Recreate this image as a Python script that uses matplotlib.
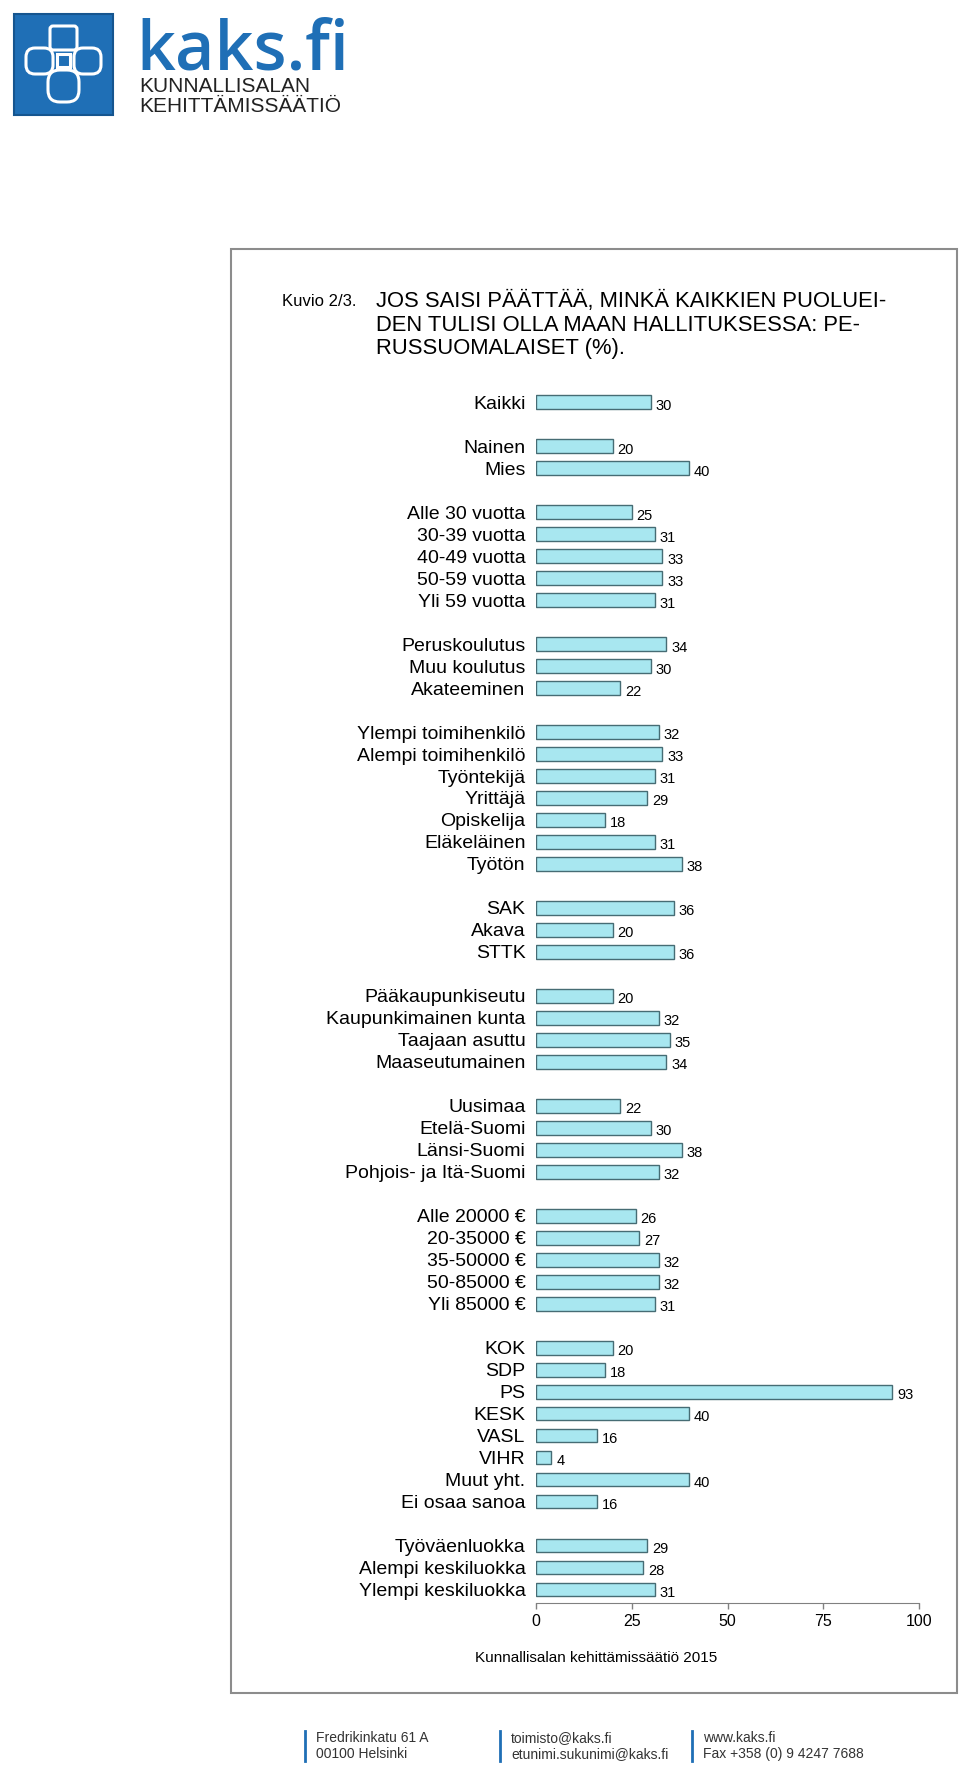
import matplotlib.pyplot as plt
import matplotlib.patches as mpatches

plt.rcParams['font.family'] = ['Liberation Sans', 'DejaVu Sans']

# data (%)
kaikki_labels = ['Kaikki']
kaikki_values = [30]
sukupuoli_labels = ['Nainen', 'Mies']
sukupuoli_values = [20, 40]
ika_labels = ['Alle 30 vuotta', '30-39 vuotta', '40-49 vuotta', '50-59 vuotta', 'Yli 59 vuotta']
ika_values = [25, 31, 33, 33, 31]
koulutus_labels = ['Peruskoulutus', 'Muu koulutus', 'Akateeminen']
koulutus_values = [34, 30, 22]
ammatti_labels = ['Ylempi toimihenkilö', 'Alempi toimihenkilö', 'Työntekijä', 'Yrittäjä',
                  'Opiskelija', 'Eläkeläinen', 'Työtön']
ammatti_values = [32, 33, 31, 29, 18, 31, 38]
liitto_labels = ['SAK', 'Akava', 'STTK']
liitto_values = [36, 20, 36]
kunta_labels = ['Pääkaupunkiseutu', 'Kaupunkimainen kunta', 'Taajaan asuttu', 'Maaseutumainen']
kunta_values = [20, 32, 35, 34]
alue_labels = ['Uusimaa', 'Etelä-Suomi', 'Länsi-Suomi', 'Pohjois- ja Itä-Suomi']
alue_values = [22, 30, 38, 32]
tulot_labels = ['Alle 20000 €', '20-35000 €', '35-50000 €', '50-85000 €', 'Yli 85000 €']
tulot_values = [26, 27, 32, 32, 31]
puolue_labels = ['KOK', 'SDP', 'PS', 'KESK', 'VASL', 'VIHR', 'Muut yht.', 'Ei osaa sanoa']
puolue_values = [20, 18, 93, 40, 16, 4, 40, 16]
luokka_labels = ['Työväenluokka', 'Alempi keskiluokka', 'Ylempi keskiluokka']
luokka_values = [29, 28, 31]

groups = [
    (kaikki_labels, kaikki_values),
    (sukupuoli_labels, sukupuoli_values),
    (ika_labels, ika_values),
    (koulutus_labels, koulutus_values),
    (ammatti_labels, ammatti_values),
    (liitto_labels, liitto_values),
    (kunta_labels, kunta_values),
    (alue_labels, alue_values),
    (tulot_labels, tulot_values),
    (puolue_labels, puolue_values),
    (luokka_labels, luokka_values),
]

labels, values, ypos = [], [], []
pos = 0
for g_labels, g_values in groups:
    for lab, val in zip(g_labels, g_values):
        labels.append(lab)
        values.append(val)
        ypos.append(pos)
        pos += 1
    pos += 1  # empty row between groups

W, H = 960, 1773
fig = plt.figure(figsize=(W / 100, H / 100), dpi=100)

# background layer in pixel coordinates (logo, frame, footer)
bg = fig.add_axes([0, 0, 1, 1], zorder=0)
bg.set_xlim(0, W)
bg.set_ylim(H, 0)
bg.axis('off')

blue = '#1f6fb6'
# logo
bg.add_patch(mpatches.Rectangle((14, 14), 99, 101, facecolor=blue, edgecolor='#15558f', lw=1.5))
wl = dict(facecolor='none', edgecolor='white', lw=2.2)
bg.add_patch(mpatches.FancyBboxPatch((50, 26), 27, 24, boxstyle='round,pad=0,rounding_size=3', **wl))
bg.add_patch(mpatches.FancyBboxPatch((26, 48), 27, 26, boxstyle='round,pad=0,rounding_size=9', **wl))
bg.add_patch(mpatches.FancyBboxPatch((74, 48), 27, 26, boxstyle='round,pad=0,rounding_size=9', **wl))
bg.add_patch(mpatches.FancyBboxPatch((48, 70), 31, 32, boxstyle='round,pad=0,rounding_size=12', **wl))
bg.add_patch(mpatches.Rectangle((57, 54), 13, 13, angle=0, **wl))
bg.text(136, 70, 'kaks.fi', color=blue, fontsize=49, fontweight='semibold',
        family=['Open Sans', 'DejaVu Sans'], va='baseline', ha='left')
bg.text(139, 86, 'KUNNALLISALAN', color='#222222', fontsize=15,
        va='center', ha='left')
bg.text(139, 106, 'KEHITTÄMISSÄÄTIÖ', color='#222222', fontsize=15,
        va='center', ha='left')

# frame around the chart
bg.add_patch(mpatches.Rectangle((231, 249), 726, 1444, facecolor='none', edgecolor='#8c8c8c', lw=1.5))

# title
bg.text(282, 302, 'Kuvio 2/3.', fontsize=12, va='center', ha='left')
bg.text(376, 325, 'JOS SAISI PÄÄTTÄÄ, MINKÄ KAIKKIEN PUOLUEI-\nDEN TULISI OLLA MAAN HALLITUKSESSA: PE-\nRUSSUOMALAISET (%).',
        fontsize=15.8, va='center', ha='left', linespacing=1.15)

# source
bg.text(596, 1658, 'Kunnallisalan kehittämissäätiö 2015', fontsize=11, va='center', ha='center')

# footer
footer = [
    (305, 'Fredrikinkatu 61 A', '00100 Helsinki'),
    (500, 'toimisto@kaks.fi', 'etunimi.sukunimi@kaks.fi'),
    (692, 'www.kaks.fi', 'Fax +358 (0) 9 4247 7688'),
]
for x, l1, l2 in footer:
    bg.plot([x, x], [1731, 1761], color=blue, lw=2)
    for yy, t in ((1738, l1), (1754, l2)):
        bg.text(x + 11, yy, t, fontsize=10, color='#333333', va='center', ha='left')

# chart
ax = fig.add_axes([536 / W, 1 - 1603 / H, 383 / W, (1603 - 389) / H], zorder=1)
ax.patch.set_alpha(0)
ax.barh(ypos, values, height=0.62, color='#a8e7f0', edgecolor='#466c74', linewidth=1)
for v, y in zip(values, ypos):
    ax.annotate(str(v), (v, y), xytext=(3.5, -2.5), textcoords='offset points',
                va='center', ha='left', fontsize=10.5)

ax.set_xlim(0, 100)
ax.set_ylim(ypos[-1] + 0.61, -0.6)
ax.set_yticks(ypos)
ax.set_yticklabels(labels)
ax.tick_params(axis='y', length=0, pad=7.5, labelsize=14)
ax.set_xticks([0, 25, 50, 75, 100])
ax.tick_params(axis='x', length=4, width=1, color='#808080', pad=4, labelsize=11.5)
for s in ('left', 'right', 'top'):
    ax.spines[s].set_visible(False)
ax.spines['bottom'].set_color('#808080')

fig.savefig('out.png', dpi=100)
